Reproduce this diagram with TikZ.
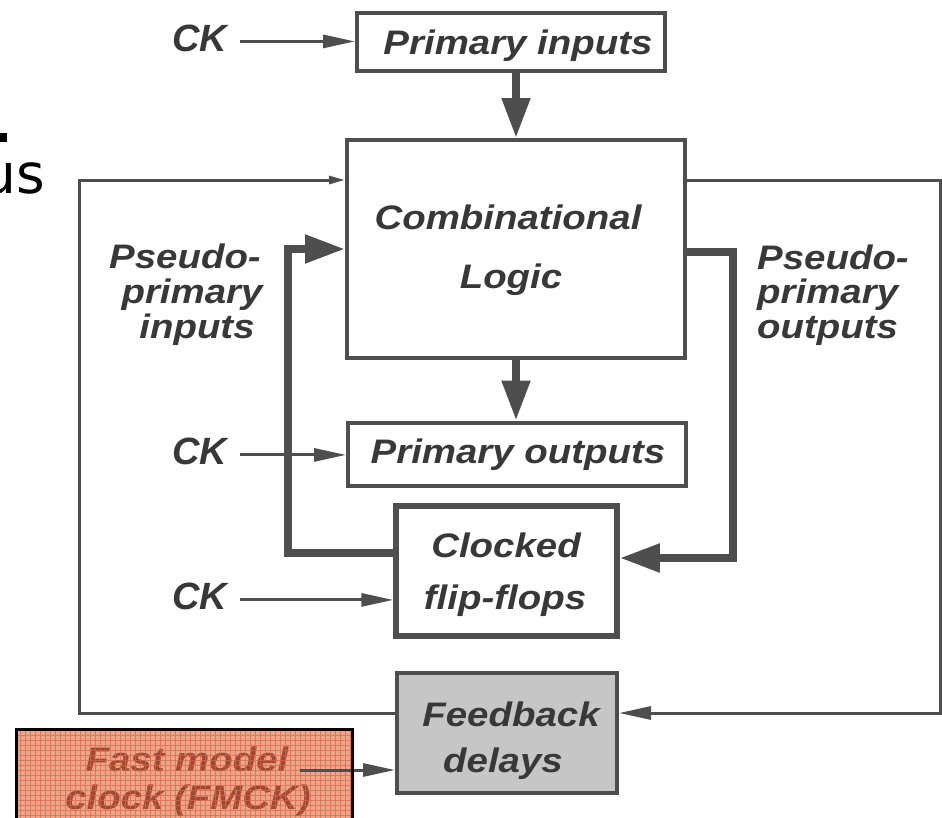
\documentclass[tikz,border=0pt]{standalone}
\usepackage{fontspec}
\usetikzlibrary{arrows.meta}
\newfontfamily\dfont{Liberation Sans}[FakeStretch=1.13]
\newfontfamily\ckfont{Liberation Sans}
\newfontfamily\ufont{DejaVu Sans}
\definecolor{ink}{HTML}{383838}
\definecolor{wire}{HTML}{4E4E4E}
\definecolor{delayfill}{HTML}{C6C6C6}
\definecolor{hlfill}{HTML}{EBA68C}
\definecolor{hlgrid}{HTML}{DC6440}
\definecolor{hltext}{HTML}{9C4A36}
\tikzset{
  lbl/.style={font=\dfont\bfseries\itshape\fontsize{34}{36}\selectfont, text=ink, inner sep=0pt, anchor=base},
  cklbl/.style={font=\ckfont\bfseries\itshape\fontsize{38}{40}\selectfont, text=ink, inner sep=0pt, anchor=base},
  box/.style={draw=wire, line width=4pt, fill=white, inner sep=0pt},
  thinw/.style={draw=wire, line width=3pt},
  thickw/.style={draw=wire, line width=8pt},
  bigtip/.style={-{Triangle[length=40pt,width=27pt]}},
  midtip/.style={-{Triangle[length=32pt,width=13pt]}},
  smalltip/.style={-{Triangle[length=16pt,width=8pt]}},
}
\begin{document}
\begin{tikzpicture}[x=1pt,y=-1pt]
\useasboundingbox (0,0) rectangle (942,817);

% remnant of a heading at the left edge
\fill[black] (0,133) rectangle (7,142);
\node[font=\ufont\fontsize{55}{60}\selectfont, anchor=base east, inner sep=0pt] (us) at (45,193) {us};

% bend points of the feedback paths
\coordinate (jl1) at (288,553);
\coordinate (jl2) at (288,249);
\coordinate (jr1) at (733,252);
\coordinate (jr2) at (733,558);
\coordinate (ol1) at (79,713);
\coordinate (ol2) at (79,180);
\coordinate (or1) at (940,180);
\coordinate (or2) at (940,713);

% blocks
\node[box, minimum width=308pt, minimum height=58pt] (pi) at (511,42) {};
\node[box, minimum width=338pt, minimum height=218pt] (cl) at (516,249) {};
\node[box, minimum width=338pt, minimum height=63pt] (po) at (517,454) {};
\node[box, line width=5.5pt, minimum width=221pt, minimum height=130pt] (ff) at (506.5,571) {};
\node[box, fill=delayfill, minimum width=220pt, minimum height=120pt] (fd) at (507,733) {};

% block texts
\node[lbl] (piT) at (518,54) {Primary inputs};
\node[lbl] (clT1) at (508,229) {Combinational};
\node[lbl] (clT2) at (511,288) {Logic};
\node[lbl] (poT) at (518,463) {Primary outputs};
\node[lbl] (ffT1) at (506,557) {Clocked};
\node[lbl] (ffT2) at (505,609) {flip-flops};
\node[lbl] (fdT1) at (511,726) {Feedback};
\node[lbl] (fdT2) at (503,772) {delays};

% side labels
\node[lbl] (ppi1) at (185,268) {Pseudo-};
\node[lbl] (ppi2) at (192,303) {primary};
\node[lbl] (ppi3) at (197,338) {inputs};
\node[lbl, anchor=base west] (ppo1) at (757,269) {Pseudo-};
\node[lbl, anchor=base west] (ppo2) at (757,303) {primary};
\node[lbl, anchor=base west] (ppo3) at (757,338) {outputs};

% clock labels
\node[cklbl] (ck1) at (200,51) {CK};
\node[cklbl] (ck2) at (200,464) {CK};
\node[cklbl] (ck3) at (200,609) {CK};

% data flow
\draw[thickw, bigtip] (pi.south -| cl.north) -- (cl.north);
\draw[thickw, bigtip] (cl.south) -- (po.north -| cl.south);
\draw[thickw, bigtip] (ff.west |- jl1) -- (jl1) -- (jl2) -- (cl.west |- jl2);
\draw[thickw, bigtip] (cl.east |- jr1) -- (jr1) -- (jr2) -- (ff.east |- jr2);

% outer loop through the delays
\draw[thinw, smalltip] (fd.west |- ol1) -- (ol1) -- (ol2) -- (cl.west |- ol2);
\draw[thinw, midtip] (cl.east |- or1) -- (or1) -- (or2) -- (fd.east |- or2);

% clock inputs
\path (ck1.east) ++(12,3.5) coordinate (ck1o);
\path (ck2.east) ++(12,4) coordinate (ck2o);
\path (ck3.east) ++(12,4) coordinate (ck3o);
\draw[thinw, midtip] (ck1o) -- (ck1o -| pi.west);
\draw[thinw, midtip] (ck2o) -- (ck2o -| po.west);
\draw[thinw, midtip] (ck3o) -- (ck3o -| ff.west);

% fast model clock
\fill[hlfill] (16,729) rectangle (352,820);
\node[lbl, text=hltext] (fm1) at (187,771) {Fast model};
\node[lbl, text=hltext] (fm2) at (188,809) {clock (FMCK)};
\begin{scope}
  \clip (16,729) rectangle (352,820);
  \draw[hlgrid, line width=0.6pt, opacity=0.7] (16,729) grid[step=5pt] (352,820);
\end{scope}
\coordinate (fmo) at (300,770);
\draw[thinw, midtip] (fmo) -- (fmo -| fd.west);
\draw[black, line width=3pt] (16,820) -- (16,729) -- (352,729) -- (352,820);
\end{tikzpicture}
\end{document}
